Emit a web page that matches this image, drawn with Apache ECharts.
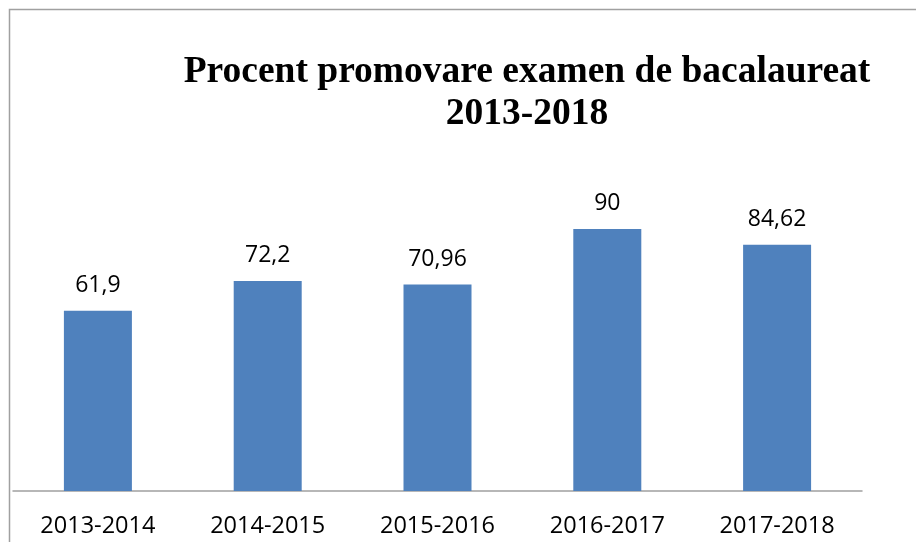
<!DOCTYPE html>
<html>
<head>
<meta charset="utf-8">
<script src="https://cdn.jsdelivr.net/npm/echarts@6/dist/echarts.min.js"></script>
<style>
  html, body { margin: 0; padding: 0; background: #fff; }
  #chart { width: 916px; height: 542px; }
</style>
</head>
<body>
<div id="chart"></div>
<script>
const years = ['2013-2014', '2014-2015', '2015-2016', '2016-2017', '2017-2018'];
const promovare = [61.9, 72.2, 70.96, 90, 84.62];

const chart = echarts.init(document.getElementById('chart'));
chart.setOption({
  animation: false,
  title: {
    text: 'Procent promovare examen de bacalaureat\n2013-2018',
    left: 527,
    top: 51,
    textAlign: 'center',
    padding: 0,
    textStyle: {
      fontFamily: '"Liberation Serif", serif',
      fontWeight: 'bold',
      fontSize: 37.5,
      lineHeight: 42,
      color: '#000'
    }
  },
  graphic: [{
    type: 'rect',
    shape: { x: 9.5, y: 9.5, width: 1000, height: 1000 },
    style: { fill: 'none', stroke: '#a0a0a0', lineWidth: 1.5 },
    silent: true
  }],
  grid: { left: 13, right: 54, top: 200, bottom: 51 },
  xAxis: {
    type: 'category',
    data: years,
    axisTick: { show: false },
    axisLine: { lineStyle: { color: '#a0a0a0', width: 1.5 } },
    axisLabel: {
      color: '#000',
      fontFamily: '"Open Sans", sans-serif',
      fontSize: 23.5,
      margin: 23
    }
  },
  yAxis: {
    type: 'value',
    min: 0,
    max: 100,
    show: false,
    splitLine: { show: false }
  },
  series: [{
    type: 'bar',
    data: promovare,
    barWidth: 68,
    itemStyle: { color: '#4f81bd' },
    label: {
      show: true,
      position: 'top',
      distance: 14,
      color: '#000',
      fontFamily: '"Open Sans", sans-serif',
      fontSize: 23,
      formatter: p => String(p.value).replace('.', ',')
    }
  }]
});
</script>
</body>
</html>
